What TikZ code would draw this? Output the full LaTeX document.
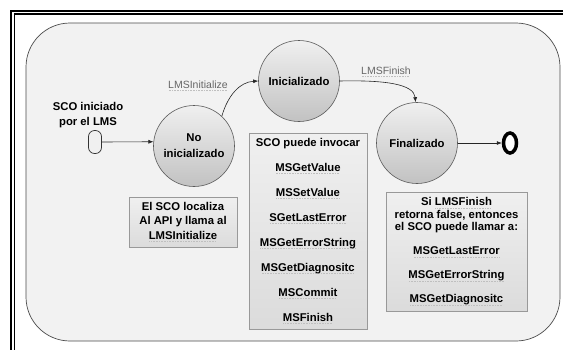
\documentclass[tikz,border=0pt]{standalone}
\usepackage{fontspec}
\setmainfont{Liberation Sans}
\usetikzlibrary{arrows.meta,shapes.geometric}
\newcommand\spellmark[1]{\leavevmode\setbox0\hbox{#1}\rlap{\raisebox{-2.4pt}{\textcolor{black!25}{\hbox to \wd0{\leaders\hbox to 1.6pt{\hss\rule{0.55pt}{0.55pt}\hss}\hfill}}}}\box0}
\begin{document}
\begin{tikzpicture}[x=1pt,y=-1pt,
  state/.style={circle, draw=black!65, line width=0.6pt, top color=black!6, bottom color=black!24,
    minimum size=81pt, inner sep=0pt, font=\fontsize{11.3}{16}\selectfont\bfseries, align=center},
  infobox/.style={rectangle, draw=black!40, line width=0.6pt, top color=black!6, bottom color=black!14,
    inner sep=0pt, align=center},
  lbl/.style={font=\fontsize{10.5}{12}\selectfont, text=black!60},
  conn/.style={draw=black!85, line width=0.6pt, -{Latex[length=5pt,width=4pt]}}
]
\useasboundingbox (0,0) rectangle (563,349);
\clip (0,0) rectangle (563,349);
\fill[white] (0,0) rectangle (563,349);
% outer double frame
\draw[line width=2pt] (11,400) -- (11,10.5) -- (600,10.5);
\draw[line width=1.1pt] (14.5,400) -- (14.5,14) -- (600,14);
% rounded background
\draw[draw=black!70, line width=0.7pt, fill=black!5, rounded corners=44pt] (26,23) rectangle (560,341);

% states
\node[state] (noinit) at (194,146) {No\\inicializado};
\node[state] (init) at (299,81) {Inicializado};
\node[state] (fin) at (417,143) {Finalizado};

% start pseudo-state
\node[font=\fontsize{11.3}{15}\selectfont\bfseries, align=center] (startlbl) at (88,115) {SCO iniciado\\por el LMS};
\node[draw=black!80, line width=0.7pt, fill=black!6, rounded corners=6pt, minimum width=13pt,
  minimum height=23pt, inner sep=0pt] (start) at (95,142) {};

% end pseudo-state
\node[ellipse, draw=black, line width=3.5pt, fill=white, minimum width=13pt, minimum height=20pt,
  inner sep=0pt] (end) at (510,143) {};

% connectors
\draw[conn] (start.east) -- (noinit.174);
\draw[conn] (noinit.47) .. controls (228,95) and (240,82) .. (init.west);
\draw[conn] (init.east) .. controls (385,80) and (414,84) .. (fin.92);
\draw[conn] (fin.east) -- (end.west);

% transition labels
\node[lbl] (l1) at (198,86) {\spellmark{LMSInitialize}};
\node[lbl] (l2) at (386,72) {\spellmark{LMSFinish}};

% info boxes
\node[infobox, minimum width=108pt, minimum height=50pt, font=\fontsize{11.3}{14.5}\selectfont\bfseries]
  (b1) at (183,222) {El SCO localiza\\Al API y llama al\\\spellmark{LMSInitialize}};
\node[infobox, minimum width=118pt, minimum height=196pt, font=\fontsize{11.3}{25}\selectfont\bfseries]
  (b2) at (308,231) {SCO puede invocar\\\spellmark{MSGetValue}\\\spellmark{MSSetValue}\\\spellmark{SGetLastError}\\\spellmark{MSGetErrorString}\\\spellmark{MSGetDiagnositc}\\\spellmark{MSCommit}\\\spellmark{MSFinish}};
\node[infobox, minimum width=141pt, minimum height=119pt, font=\fontsize{11.3}{12.5}\selectfont\bfseries]
  (b3) at (456.5,251.5) {Si \spellmark{LMSFinish}\\retorna false, entonces\\el SCO puede llamar a:\\[11.5pt]\spellmark{MSGetLastError}\\[11.5pt]\spellmark{MSGetErrorString}\\[11.5pt]\spellmark{MSGetDiagnositc}};
\end{tikzpicture}
\end{document}
